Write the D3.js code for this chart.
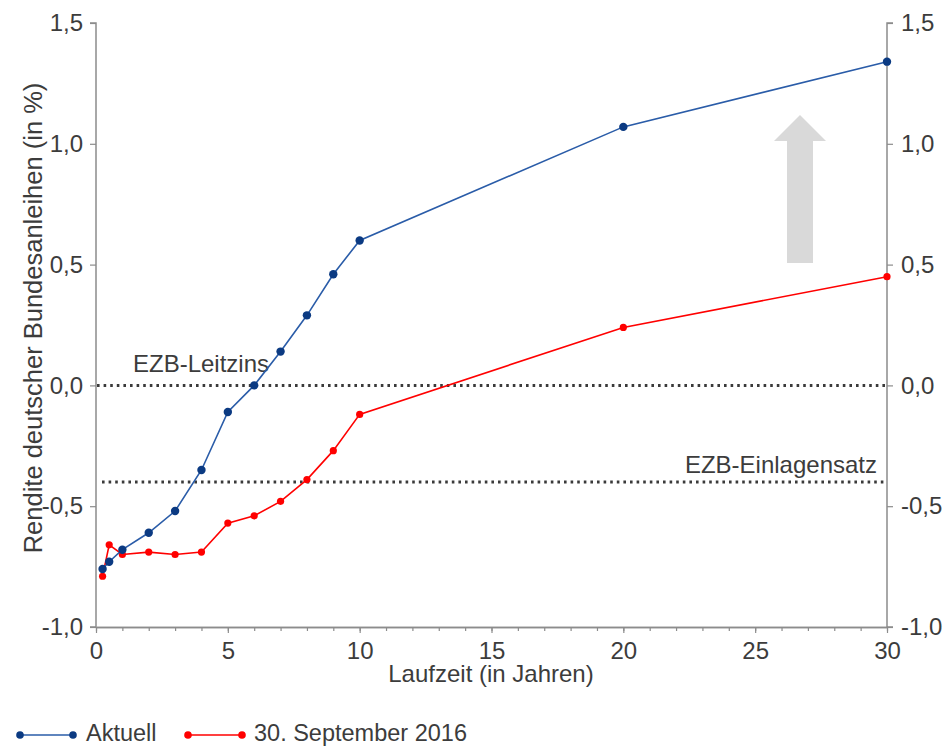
<!DOCTYPE html>
<html>
<head>
<meta charset="utf-8">
<script src="https://cdn.jsdelivr.net/npm/d3@7"></script>
<style>
  html, body { margin: 0; padding: 0; background: #fff; }
  svg { display: block; font-family: "Liberation Sans", Arial, sans-serif; }
</style>
</head>
<body>
<svg id="chart" width="947" height="746"></svg>
<script>
// Laufzeiten (Jahre) und Renditen (%)
const maturities = [0.25, 0.5, 1, 2, 3, 4, 5, 6, 7, 8, 9, 10, 20, 30];
const yieldsCurrent = [-0.76, -0.73, -0.68, -0.61, -0.52, -0.35, -0.11, 0.0, 0.14, 0.29, 0.46, 0.60, 1.07, 1.34];
const yieldsSep2016 = [-0.79, -0.66, -0.70, -0.69, -0.70, -0.69, -0.57, -0.54, -0.48, -0.39, -0.27, -0.12, 0.24, 0.45];
const xTicks = [0, 5, 10, 15, 20, 25, 30];
const yTicks = [-1.0, -0.5, 0.0, 0.5, 1.0, 1.5];
const refLevels = [
  { name: "EZB-Leitzins", value: 0.0 },
  { name: "EZB-Einlagensatz", value: -0.4 }
];
const seriesNames = ["Aktuell", "30. September 2016"];

const svg = d3.select("#chart");
const plotLeft = 96, plotRight = 887, plotTop = 23, plotBottom = 627;
const textColor = "#3c3c3c", axisColor = "#8c8c8c";
const blueLine = "#2a5ca8", blueDot = "#0b3a82", red = "#ff0000";
const fontSize = 24;

const x = d3.scaleLinear().domain([0, 30]).range([plotLeft, plotRight]);
const y = d3.scaleLinear().domain([-1, 1.5]).range([plotBottom, plotTop]);
const fmt = d => d3.format(".1f")(d).replace(".", ",").replace("\u2212", "-");

// Achsen
const yLeft = svg.append("g").attr("transform", `translate(${plotLeft},0)`)
  .call(d3.axisLeft(y).tickValues(yTicks).tickFormat(fmt).tickSize(6).tickPadding(7));
const yRight = svg.append("g").attr("transform", `translate(${plotRight},0)`)
  .call(d3.axisRight(y).tickValues(yTicks).tickFormat(fmt).tickSize(6).tickPadding(8));
const xMinor = svg.append("g").attr("transform", `translate(0,${plotBottom})`)
  .call(d3.axisBottom(x).ticks(30).tickFormat("").tickSize(4).tickSizeOuter(0));
const xAxis = svg.append("g").attr("transform", `translate(0,${plotBottom})`)
  .call(d3.axisBottom(x).tickValues(xTicks).tickFormat(d3.format("d")).tickSize(6).tickSizeOuter(0).tickPadding(9));

[yLeft, yRight, xMinor, xAxis].forEach(g => {
  g.selectAll(".domain").attr("stroke", axisColor).attr("stroke-width", 1.5);
  g.selectAll(".tick line").attr("stroke", axisColor).attr("stroke-width", 1.2);
  g.selectAll(".tick text").attr("fill", textColor).attr("font-size", fontSize)
    .attr("font-family", "Liberation Sans, Arial, sans-serif");
});
yLeft.select(".domain").attr("d", `M-6,${plotTop}H0V${plotBottom}H-6`);
yRight.select(".domain").attr("d", `M6,${plotTop}H0V${plotBottom}H6`);

// Achsentitel
svg.append("text")
  .attr("transform", `translate(42,318) rotate(-90)`)
  .attr("text-anchor", "middle").attr("fill", textColor).attr("font-size", 25.5)
  .text("Rendite deutscher Bundesanleihen (in %)");
svg.append("text")
  .attr("x", 491).attr("y", 682)
  .attr("text-anchor", "middle").attr("fill", textColor).attr("font-size", fontSize)
  .text("Laufzeit (in Jahren)");

// Referenzlinien der EZB
svg.selectAll("line.ref").data(refLevels).enter().append("line")
  .attr("class", "ref")
  .attr("x1", (d, i) => i === 0 ? plotLeft + 1 : plotLeft + 6).attr("x2", plotRight)
  .attr("y1", d => y(d.value)).attr("y2", d => y(d.value))
  .attr("stroke", "#3a3a3a").attr("stroke-width", 3).attr("stroke-dasharray", "2.6,4");
svg.append("text").attr("x", 133).attr("y", y(refLevels[0].value) - 13)
  .attr("fill", textColor).attr("font-size", fontSize).text(refLevels[0].name);
svg.append("text").attr("x", 877).attr("y", y(refLevels[1].value) - 9)
  .attr("text-anchor", "end").attr("fill", textColor).attr("font-size", fontSize).text(refLevels[1].name);

// Pfeil (Anstieg der Renditen)
const arrow = d3.path();
arrow.moveTo(787, 263); arrow.lineTo(787, 141); arrow.lineTo(774, 141);
arrow.lineTo(800, 115); arrow.lineTo(826, 141); arrow.lineTo(813, 141);
arrow.lineTo(813, 263); arrow.closePath();
svg.append("path").attr("d", arrow.toString()).attr("fill", "#d9d9d9");

// Zinsstrukturkurven
const line = d3.line().x(d => x(d[0])).y(d => y(d[1]));
function drawSeries(values, lineColor, dotColor, r, w) {
  const pts = maturities.map((m, i) => [m, values[i]]);
  svg.append("path").datum(pts).attr("d", line)
    .attr("fill", "none").attr("stroke", lineColor).attr("stroke-width", w);
  svg.append("g").selectAll("circle").data(pts).enter().append("circle")
    .attr("cx", d => x(d[0])).attr("cy", d => y(d[1])).attr("r", r).attr("fill", dotColor);
}
drawSeries(yieldsSep2016, red, red, 3.6, 1.6);
drawSeries(yieldsCurrent, blueLine, blueDot, 4.2, 1.6);

// Legende
const legend = [
  { name: seriesNames[0], line: blueLine, dot: blueDot, x0: 20, x1: 73, tx: 86 },
  { name: seriesNames[1], line: red, dot: red, x0: 188, x1: 242, tx: 254 }
];
const ly = 735;
legend.forEach(l => {
  svg.append("line").attr("x1", l.x0).attr("x2", l.x1).attr("y1", ly).attr("y2", ly)
    .attr("stroke", l.line).attr("stroke-width", 1.6);
  [l.x0, l.x1].forEach(cx => svg.append("circle").attr("cx", cx).attr("cy", ly).attr("r", 3.8).attr("fill", l.dot));
  svg.append("text").attr("x", l.tx).attr("y", 741).attr("fill", textColor).attr("font-size", 23.5).text(l.name);
});
</script>
</body>
</html>
